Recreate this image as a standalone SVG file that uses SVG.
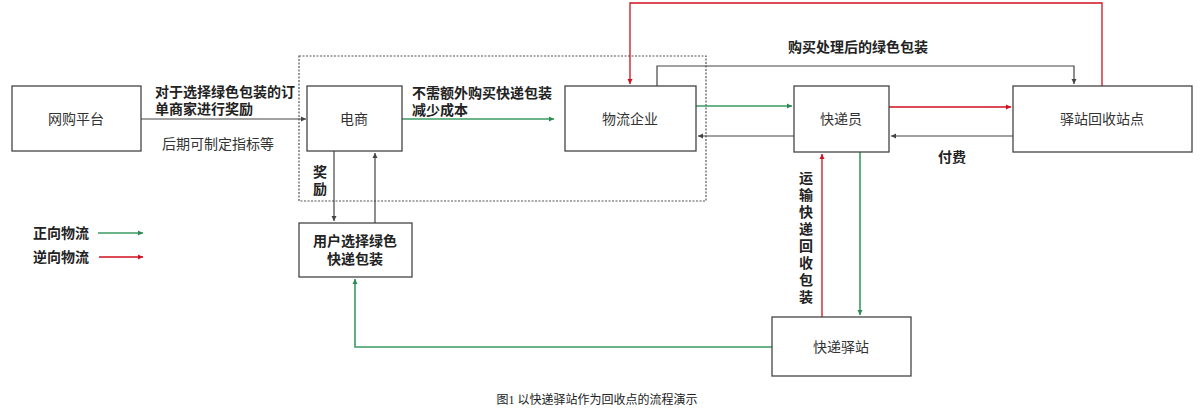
<svg xmlns="http://www.w3.org/2000/svg" width="1200" height="416" viewBox="0 0 1200 416">
<style>
.box{fill:#fff;stroke:#444;stroke-width:1.3}
.t{font-family:"Noto Sans CJK SC","Noto Sans",sans-serif;font-size:14px;fill:#333;text-anchor:middle}
.b{font-family:"Noto Sans CJK SC","Noto Sans",sans-serif;font-size:14px;font-weight:bold;fill:#222}
.c{font-family:"Liberation Serif","Noto Sans CJK SC",serif;font-size:12px;fill:#222;text-anchor:middle}
.k{fill:none;stroke:#444;stroke-width:1.2}
.g{fill:none;stroke:#3a9a62;stroke-width:1.6}
.r{fill:none;stroke:#d0101e;stroke-width:1.3}
</style>
<defs>
<marker id="ak" markerWidth="6" markerHeight="6" refX="5" refY="3" orient="auto" markerUnits="userSpaceOnUse"><path d="M0,0.5 L5,3 L0,5.5 z" fill="#444"/></marker>
<marker id="ag" markerWidth="6" markerHeight="6" refX="5" refY="3" orient="auto" markerUnits="userSpaceOnUse"><path d="M0,0.5 L5,3 L0,5.5 z" fill="#2a8a50"/></marker>
<marker id="ar" markerWidth="6" markerHeight="6" refX="5" refY="3" orient="auto" markerUnits="userSpaceOnUse"><path d="M0,0.5 L5,3 L0,5.5 z" fill="#d0101e"/></marker>
</defs>
<rect x="0" y="0" width="1200" height="416" fill="#fff"/>
<rect x="299" y="56" width="407" height="145" fill="none" stroke="#555" stroke-width="1.2" stroke-dasharray="2,1.5"/>
<g id="connectors">
<path class="k" d="M141,119 H306" marker-end="url(#ak)"/>
<path class="g" d="M402,119 H554" marker-end="url(#ag)"/>
<path class="k" d="M334,151 V221" marker-end="url(#ak)"/>
<path class="k" d="M375,223 V153" marker-end="url(#ak)"/>
<path class="r" d="M1102,86 V3 H630 V84" marker-end="url(#ar)"/>
<path class="k" d="M657,86 V66 H1074 V84" marker-end="url(#ak)"/>
<path class="g" d="M696,106 H792" marker-end="url(#ag)"/>
<path class="k" d="M794,136 H698" marker-end="url(#ak)"/>
<path class="r" d="M889,107 H1011" marker-end="url(#ar)"/>
<path class="k" d="M1013,136 H891" marker-end="url(#ak)"/>
<path class="r" d="M822,317 V154" marker-end="url(#ar)"/>
<path class="g" d="M860,152 V315" marker-end="url(#ag)"/>
<path class="g" d="M772,347 H355 V279" marker-end="url(#ag)"/>
<path class="g" d="M98,233 H143" marker-end="url(#ag)"/>
<path class="r" d="M99,257 H143" marker-end="url(#ar)"/>
</g>
<g id="n-wanggou"><rect class="box" x="12" y="86" width="129" height="65"/><text class="t" x="76" y="124">网购平台</text></g>
<g id="n-dianshang"><rect class="box" x="307" y="86" width="95" height="65"/><text class="t" x="354" y="124">电商</text></g>
<g id="n-wuliu"><rect class="box" x="565" y="86" width="131" height="65"/><text class="t" x="630" y="124">物流企业</text></g>
<g id="n-kuaidiyuan"><rect class="box" x="794" y="86" width="95" height="66"/><text class="t" x="841" y="124">快递员</text></g>
<g id="n-huishou"><rect class="box" x="1013" y="86" width="179" height="66"/><text class="t" x="1102" y="124">驿站回收站点</text></g>
<g id="n-yonghu"><rect class="box" x="299" y="223" width="113" height="54"/><text class="b" text-anchor="middle" x="355" y="246">用户选择绿色</text><text class="b" text-anchor="middle" x="355" y="264">快递包装</text></g>
<g id="n-yizhan"><rect class="box" x="772" y="317" width="139" height="59"/><text class="t" x="841" y="352">快递驿站</text></g>
<g id="labels">
<text class="b" x="155" y="97">对于选择绿色包装的订</text>
<text class="b" x="155" y="114">单商家进行奖励</text>
<text class="t" x="218" y="149">后期可制定指标等</text>
<text class="b" x="412" y="98">不需额外购买快递包装</text>
<text class="b" x="412" y="115">减少成本</text>
<text class="b" text-anchor="middle" x="320" y="177">奖</text>
<text class="b" text-anchor="middle" x="320" y="194">励</text>
<text class="b" x="788" y="52">购买处理后的绿色包装</text>
<text class="b" x="938" y="162">付费</text>
<g class="b" text-anchor="middle">
<text x="806" y="183">运</text>
<text x="806" y="200">输</text>
<text x="806" y="217">快</text>
<text x="806" y="234">递</text>
<text x="806" y="251">回</text>
<text x="806" y="268">收</text>
<text x="806" y="285">包</text>
<text x="806" y="302">装</text>
</g>
<text class="b" x="33" y="238">正向物流</text>
<text class="b" x="33" y="262">逆向物流</text>
<text class="c" x="597" y="404">图1 以快递驿站作为回收点的流程演示</text>
</g>
</svg>
